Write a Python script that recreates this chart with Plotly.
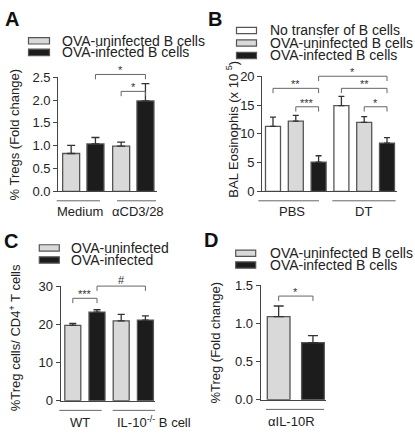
import plotly.graph_objects as go

W, H = 415, 437

# ---------------- data ----------------
# Panel A
a_groups = ["Medium", "αCD3/28"]
a_series = ["OVA-uninfected B cells", "OVA-infected B cells"]
a_uninf = [0.83, 0.99]
a_uninf_err = [0.18, 0.09]
a_inf = [1.04, 1.98]
a_inf_err = [0.14, 0.38]
a_yticks = [0.0, 0.5, 1.0, 1.5, 2.0, 2.5]
a_sig = [((0, 1), (1, 1), 2.56, "*"), ((1, 0), (1, 1), 2.19, "*")]

# Panel B
b_groups = ["PBS", "DT"]
b_series = ["No transfer of B cells", "OVA-uninfected B cells", "OVA-infected B cells"]
b_none = [11.3, 14.9]
b_none_err = [1.6, 1.6]
b_uninf = [12.2, 12.0]
b_uninf_err = [1.0, 1.0]
b_inf = [5.1, 8.4]
b_inf_err = [1.1, 0.95]
b_yticks = [0, 5, 10, 15, 20]
b_sig = [((0, 0), (0, 2), 17.9, "**"), ((0, 1), (0, 2), 14.7, "***"),
         ((0, 2), (1, 2), 20.0, "*"), ((1, 0), (1, 2), 17.9, "**"),
         ((1, 1), (1, 2), 14.7, "*")]

# Panel C
c_groups = ["WT", "IL-10<sup>-/-</sup> B cell"]
c_series = ["OVA-uninfected", "OVA-infected"]
c_uninf = [19.7, 20.9]
c_uninf_err = [0.5, 1.7]
c_inf = [23.2, 21.1]
c_inf_err = [0.6, 1.1]
c_yticks = [0, 10, 20, 30]
c_sig = [((0, 0), (0, 1), 26.8, "***"), ((0, 1), (1, 1), 30.0, "#")]

# Panel D
d_groups = ["αIL-10R"]
d_series = ["OVA-uninfected B cells", "OVA-infected B cells"]
d_uninf = [1.09]
d_uninf_err = [0.14]
d_inf = [0.75]
d_inf_err = [0.09]
d_yticks = [0.0, 0.5, 1.0, 1.5]
d_sig = [((0, 0), (0, 1), 1.36, "*")]

# ---------------- style ----------------
FONT = "Arial, 'Liberation Sans', Helvetica, sans-serif"
WHITE, GRAY, BLACK = "#ffffff", "#d9d9d9", "#1c1c1c"
EDGE = "#555555"
AX = "#444444"
TXT = "#222222"

panels = [
    dict(ax="", letter="A", letter_xy=(3, 12), groups=a_groups, series=a_series,
         values=[a_uninf, a_inf], errs=[a_uninf_err, a_inf_err], fills=[GRAY, BLACK],
         yticks=a_yticks, fmt=".1f", sig=a_sig,
         xdom=(58.3, 157), ydom=(72.7, 191), center0=83.3, unit=50, spacing=24.3, barw=17, cap=4,
         ytitle="% Tregs (Fold change)", ytitle_xy=(14, 132),
         leg_box=(28.5, 49.5), leg_rows=[35, 47], leg_text=60,
         under=[(56.7, 100), (117, 156)], under_y=200.7, lab_y=211.7, lab_shift=[-3, 5]),
    dict(ax="2", letter="B", letter_xy=(206, 12.5), groups=b_groups, series=b_series,
         values=[b_none, b_uninf, b_inf], errs=[b_none_err, b_uninf_err, b_inf_err],
         fills=[WHITE, GRAY, BLACK], yticks=b_yticks, fmt="d", sig=b_sig,
         xdom=(262.3, 396.7), ydom=(71.7, 191), center0=295.8, unit=68.4, spacing=22.8, barw=15, cap=3,
         ytitle="BAL Eosinophis (x 10 <sup>5</sup>)", ytitle_xy=(232, 127),
         leg_box=(236.5, 256.5), leg_rows=[24.3, 37.3, 50.2], leg_text=268.3,
         under=[(258.3, 319), (332.3, 395.7)], under_y=200.7, lab_y=211.7, lab_shift=[-4, -1]),
    dict(ax="3", letter="C", letter_xy=(1.5, 242), groups=c_groups, series=c_series,
         values=[c_uninf, c_inf], errs=[c_uninf_err, c_inf_err], fills=[GRAY, BLACK],
         yticks=c_yticks, fmt="d", sig=c_sig,
         xdom=(60.7, 155), ydom=(289, 407.7), center0=84.9, unit=48.4, spacing=24.2, barw=16, cap=3.5,
         ytitle="%Treg cells/ CD4<sup>+</sup> T cells", ytitle_xy=(15, 343),
         leg_box=(39.3, 59.3), leg_rows=[249.5, 262], leg_text=69.3,
         under=[(59.3, 101.7), (112.7, 155)], under_y=417.7, lab_y=430, lab_shift=[-5, 21]),
    dict(ax="4", letter="D", letter_xy=(201.5, 241), groups=d_groups, series=d_series,
         values=[d_uninf, d_inf], errs=[d_uninf_err, d_inf_err], fills=[GRAY, BLACK],
         yticks=d_yticks, fmt=".1f", sig=d_sig,
         xdom=(260.7, 326), ydom=(288.3, 406.7), center0=295.8, unit=70.2, spacing=34.3, barw=22.7, cap=5,
         ytitle="%Treg (Fold change)", ytitle_xy=(216, 347.5),
         leg_box=(235.7, 255.7), leg_rows=[255, 267.2], leg_text=268.3,
         under=[(266, 324)], under_y=416.7, lab_y=429.3, lab_shift=[-4]),
]


def px(xp):
    return xp / W


def py(yp):
    return 1 - yp / H


fig = go.Figure()
shapes, annos = [], []
layout = {}

for p in panels:
    ax = p["ax"]
    xname, yname = "x" + ax, "y" + ax
    xr = ((p["xdom"][0] - p["center0"]) / p["unit"], (p["xdom"][1] - p["center0"]) / p["unit"])
    yr = (p["yticks"][0], p["yticks"][-1])
    n = len(p["series"])
    w = p["barw"] / p["unit"]
    offs = [(k - (n - 1) / 2) * p["spacing"] / p["unit"] for k in range(n)]
    gx = list(range(len(p["groups"])))
    dom_h = p["ydom"][1] - p["ydom"][0]

    for k in range(n):
        fig.add_trace(go.Bar(
            x=gx, y=p["values"][k], name=p["series"][k], xaxis=xname, yaxis=yname,
            width=w, offset=offs[k] - w / 2, showlegend=False,
            marker=dict(color=p["fills"][k], line=dict(color=EDGE, width=1.3)),
            error_y=dict(type="data", array=p["errs"][k], arrayminus=[0] * len(gx),
                         symmetric=False, color="#333333", thickness=1.3, width=p["cap"]),
        ))

    xkey = "xaxis" + ax
    ykey = "yaxis" + ax
    layout[xkey] = dict(domain=[px(p["xdom"][0]), px(p["xdom"][1])], range=list(xr),
                        anchor=yname, showline=True, linecolor=AX, linewidth=1.2,
                        showticklabels=False, ticks="", showgrid=False, zeroline=False,
                        fixedrange=True)
    layout[ykey] = dict(domain=[py(p["ydom"][1]), py(p["ydom"][0])], range=list(yr),
                        anchor=xname, showline=True, linecolor=AX, linewidth=1.2,
                        ticks="outside", ticklen=4, tickwidth=1.2, tickcolor=AX,
                        tickvals=p["yticks"],
                        ticktext=[format(v, p["fmt"]) if p["fmt"] != "d" else str(int(v)) for v in p["yticks"]],
                        tickfont=dict(size=13, color=TXT, family=FONT),
                        showgrid=False, zeroline=False, fixedrange=True)

    # significance brackets
    drop = 5 / dom_h
    for (g1, s1), (g2, s2), yv, lab in p["sig"]:
        x1 = g1 + offs[s1]
        x2 = g2 + offs[s2]
        yf = (yv - yr[0]) / (yr[1] - yr[0])
        shapes.append(dict(type="path", xref=xname, yref=yname + " domain",
                           path=f"M {x1},{yf - drop} L {x1},{yf} L {x2},{yf} L {x2},{yf - drop}",
                           line=dict(color="#666666", width=1)))
        annos.append(dict(x=(x1 + x2) / 2, y=yf, xref=xname, yref=yname + " domain",
                          text=lab, showarrow=False, yanchor="middle",
                          yshift=4 if lab != "#" else 6,
                          font=dict(size=11, color="#333333", family=FONT)))

    # group underlines and labels
    for (u0, u1) in p["under"]:
        shapes.append(dict(type="line", xref="paper", yref="paper", x0=px(u0), x1=px(u1),
                           y0=py(p["under_y"]), y1=py(p["under_y"]),
                           line=dict(color="#666666", width=1)))
    for gi, g in enumerate(p["groups"]):
        annos.append(dict(x=gi, y=py(p["lab_y"]), xref=xname, yref="paper", text=g,
                          showarrow=False, yanchor="middle", xshift=p["lab_shift"][gi],
                          font=dict(size=13, color=TXT, family=FONT)))

    # y title
    annos.append(dict(x=px(p["ytitle_xy"][0]), y=py(p["ytitle_xy"][1]), xref="paper", yref="paper",
                      text=p["ytitle"], textangle=-90, showarrow=False,
                      xanchor="center", yanchor="middle",
                      font=dict(size=13, color=TXT, family=FONT)))

    # panel letter
    annos.append(dict(x=px(p["letter_xy"][0]), y=py(p["letter_xy"][1]), xref="paper", yref="paper",
                      text="<b>" + p["letter"] + "</b>", showarrow=False,
                      xanchor="left", yanchor="middle",
                      font=dict(size=20, color="#111111", family=FONT)))

    # manual legend
    for k, name in enumerate(p["series"]):
        yc = p["leg_rows"][k]
        shapes.append(dict(type="rect", xref="paper", yref="paper",
                           x0=px(p["leg_box"][0]), x1=px(p["leg_box"][1]),
                           y0=py(yc + 3.3), y1=py(yc - 3.3),
                           fillcolor=p["fills"][k], line=dict(color=EDGE, width=1.2)))
        annos.append(dict(x=px(p["leg_text"]), y=py(yc), xref="paper", yref="paper",
                          text=name, showarrow=False, xanchor="left", yanchor="middle",
                          font=dict(size=14, color=TXT, family=FONT)))

fig.update_layout(
    width=W, height=H, margin=dict(l=0, r=0, t=0, b=0),
    paper_bgcolor="white", plot_bgcolor="white",
    barmode="overlay", showlegend=False,
    font=dict(family=FONT, color=TXT),
    shapes=shapes, annotations=annos,
    **layout,
)

fig.write_html("out.html", config={"displayModeBar": False},
               post_script="document.body.style.margin='0';document.body.style.overflow='hidden';")
